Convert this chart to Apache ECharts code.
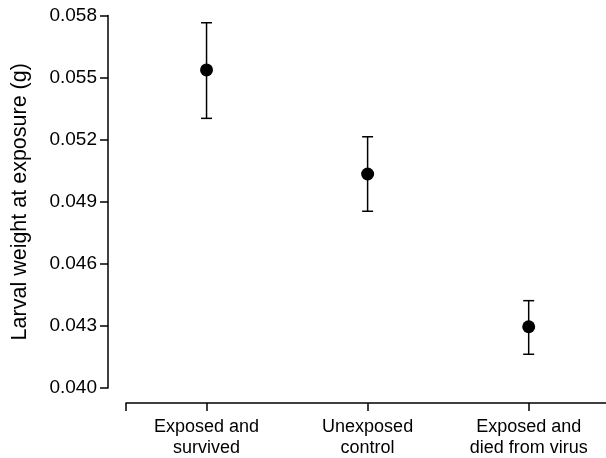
<!DOCTYPE html>
<html>
<head>
<meta charset="utf-8">
<script src="https://cdn.jsdelivr.net/npm/echarts@6/dist/echarts.min.js"></script>
<style>html,body{margin:0;padding:0;background:#fff;}#c{width:606px;height:458px;}</style>
</head>
<body>
<div id="c"></div>
<script>
const categories = ['Exposed and\nsurvived', 'Unexposed\ncontrol', 'Exposed and\ndied from virus'];
const means = [0.05537, 0.05034, 0.04296];
const upper = [0.05765, 0.05214, 0.04422];
const lower = [0.05303, 0.04854, 0.04163];
const yTicks = [0.040, 0.043, 0.046, 0.049, 0.052, 0.055, 0.058];
const yTitle = 'Larval weight at exposure (g)';

const FONT = '"Liberation Sans", Arial, sans-serif';
const chart = echarts.init(document.getElementById('c'), null, {renderer: 'canvas'});
const positions = categories.map((c, i) => i + 1);

chart.setOption({
  animation: false,
  backgroundColor: '#fff',
  grid: {left: 126, right: 0, top: 15.5, bottom: 70, containLabel: false, outerBoundsMode: 'none'},
  xAxis: {
    type: 'value', min: 0.5, max: 3.48, offset: 15,
    splitLine: {show: false},
    axisLine: {show: true, lineStyle: {color: '#000', width: 1.5}},
    axisTick: {show: true, length: 8, lineStyle: {color: '#000', width: 1.5}, customValues: [0.5].concat(positions)},
    axisLabel: {show: true, customValues: positions, margin: 14, color: '#000', fontSize: 18, fontFamily: FONT, lineHeight: 21,
      formatter: v => categories[Math.round(v) - 1] || ''}
  },
  yAxis: {
    type: 'value', min: yTicks[0], max: yTicks[yTicks.length - 1], interval: 0.003, offset: 18,
    splitLine: {show: false},
    axisLine: {show: true, lineStyle: {color: '#000', width: 1.5}},
    axisTick: {show: true, length: 8, lineStyle: {color: '#000', width: 1.5}, customValues: yTicks},
    axisLabel: {show: true, customValues: yTicks, margin: 11, color: '#000', fontSize: 19, fontFamily: FONT,
      formatter: v => Number(v).toFixed(3)},
    name: yTitle, nameLocation: 'middle', nameGap: 77, nameRotate: 90,
    nameTextStyle: {color: '#000', fontSize: 21.5, fontFamily: FONT}
  },
  series: [
    {
      type: 'custom',
      data: positions.map((p, i) => [p, lower[i], upper[i]]),
      renderItem: function (params, api) {
        const x = api.value(0);
        const lo = api.coord([x, api.value(1)]);
        const hi = api.coord([x, api.value(2)]);
        const hw = 5.5;
        const style = {stroke: '#000', lineWidth: 1.5, fill: null};
        return {
          type: 'group',
          children: [
            {type: 'line', shape: {x1: lo[0], y1: lo[1], x2: hi[0], y2: hi[1]}, style: style},
            {type: 'line', shape: {x1: lo[0] - hw, y1: lo[1], x2: lo[0] + hw, y2: lo[1]}, style: style},
            {type: 'line', shape: {x1: hi[0] - hw, y1: hi[1], x2: hi[0] + hw, y2: hi[1]}, style: style}
          ]
        };
      },
      z: 2
    },
    {
      type: 'scatter',
      data: positions.map((p, i) => [p, means[i]]),
      symbol: 'circle', symbolSize: 13,
      itemStyle: {color: '#000', opacity: 1},
      z: 3
    }
  ]
});
</script>
</body>
</html>
